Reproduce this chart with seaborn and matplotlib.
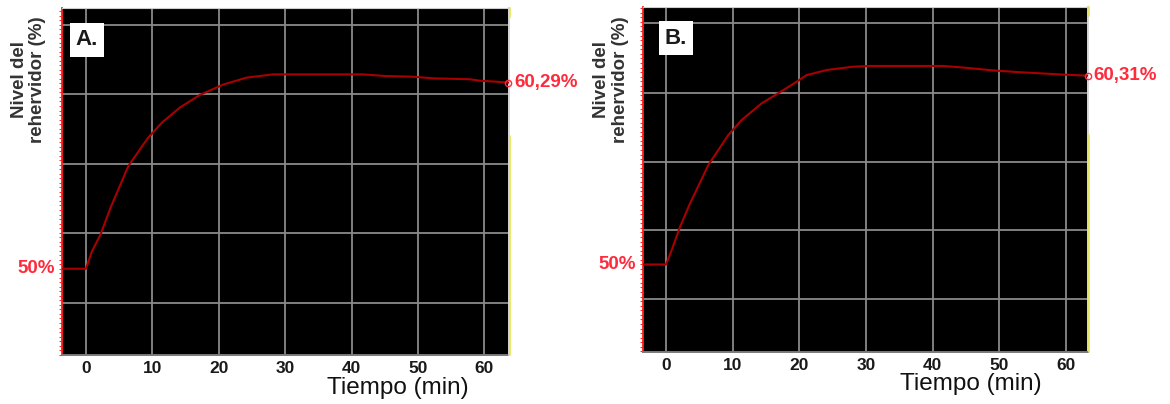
import numpy as np
import pandas as pd
import matplotlib
matplotlib.use("Agg")
import matplotlib.pyplot as plt
from matplotlib.ticker import MultipleLocator
import seaborn as sns

# valores
tiempo_a = [-3.5, 0.0, 0.9, 2.2, 3.7, 6.4, 9.4, 11.5, 14.2, 17.2, 20.7, 24.2, 28.2,
            41.7, 45.0, 49.3, 52.3, 57.8, 59.3, 62.0, 63.6]
nivel_a = [50.0, 50.0, 50.96, 51.89, 53.37, 55.69, 57.26, 58.10, 58.93, 59.62, 60.19,
           60.57, 60.75, 60.75, 60.66, 60.62, 60.53, 60.48, 60.40, 60.34, 60.29]

tiempo_b = [-3.4, 0.0, 0.85, 2.1, 3.6, 6.35, 9.35, 11.35, 14.35, 17.6, 19.6, 21.1, 24.1,
            28.1, 30.6, 41.6, 45.0, 49.0, 53.0, 57.0, 60.0, 63.3]
nivel_b = [50.0, 50.0, 50.78, 52.05, 53.33, 55.43, 57.07, 57.89, 58.80, 59.52, 59.98,
           60.34, 60.62, 60.80, 60.84, 60.84, 60.74, 60.60, 60.50, 60.42, 60.36, 60.31]

final_a = "60,29%"
final_b = "60,31%"
paneles = ["A.", "B."]
xticks = [0, 10, 20, 30, 40, 50, 60]

sns.set_style("dark")
plt.rcParams["font.family"] = ["Liberation Sans", "DejaVu Sans"]

rojo_linea = "#a80000"
rojo_texto = "#ff2b3d"
gris_grid = "#8a8a8a"
texto = "#1a1a1a"

fig = plt.figure(figsize=(11.7, 4.04), dpi=100)
fig.patch.set_facecolor("white")

configs = [
    dict(t=tiempo_a, v=nivel_a, fin=final_a, panel=paneles[0],
         rect=[62 / 1170, 1 - 355 / 404, 447 / 1170, 347 / 404],
         xlim=(-3.6, 63.7), ylim=(45.23, 64.42),
         grid_y=[48.13, 51.97, 55.81, 59.65, 63.49],
         xlab_x=0.752, panel_xy=(0.056, 0.908), ylab_x=28.5 / 1170),
    dict(t=tiempo_b, v=nivel_b, fin=final_b, panel=paneles[1],
         rect=[643 / 1170, 1 - 352 / 404, 445 / 1170, 345 / 404],
         xlim=(-3.45, 63.3), ylim=(45.22, 64.06),
         grid_y=[48.09, 51.87, 55.61, 59.34, 63.17],
         xlab_x=0.737, panel_xy=(0.074, 0.910), ylab_x=611 / 1170),
]

for c in configs:
    ax = fig.add_axes(c["rect"])
    df = pd.DataFrame({"Tiempo": c["t"], "Nivel": c["v"]})
    ax.set_facecolor("black")
    ax.set_axisbelow(True)

    sns.lineplot(data=df, x="Tiempo", y="Nivel", ax=ax, color=rojo_linea,
                 linewidth=1.5, estimator=None, sort=False, zorder=3)
    # marcador del valor final
    ax.plot(df["Tiempo"].iloc[-1], df["Nivel"].iloc[-1], "o", ms=4.5, mfc="none",
            mec=rojo_texto, mew=1.0, clip_on=False, zorder=4)
    ax.annotate(c["fin"], (df["Tiempo"].iloc[-1], df["Nivel"].iloc[-1]),
                xytext=(4, 0), textcoords="offset points", va="center", ha="left",
                color=rojo_texto, fontsize=13.5, fontweight="bold", annotation_clip=False)

    ax.set_xlim(c["xlim"])
    ax.set_ylim(c["ylim"])
    ax.set_xticks(xticks)
    ax.set_xticklabels([str(x) for x in xticks], fontsize=12.5, fontweight="bold", color=texto)
    ax.set_yticks(c["grid_y"])
    ax.set_yticklabels([])
    ax.yaxis.set_minor_locator(MultipleLocator(0.25))
    ax.tick_params(axis="x", length=0, pad=4)
    ax.tick_params(axis="y", which="major", length=0)
    ax.tick_params(axis="y", which="minor", length=2, color="#ff3030", width=0.8, left=True)
    ax.grid(True, which="major", color=gris_grid, linewidth=1.3)
    ax.grid(False, which="minor")

    ax.text(-0.015, 50, "50%", transform=ax.get_yaxis_transform(), ha="right", va="center",
            color=rojo_texto, fontsize=13.5, fontweight="bold")

    ax.set_xlabel("Tiempo (min)", fontsize=17.5, color="#111111")
    ax.xaxis.set_label_coords(c["xlab_x"], -0.062)
    ax.set_ylabel("")

    for s in ax.spines.values():
        s.set_visible(True)
    ax.spines["left"].set_color("#ff2020")
    ax.spines["left"].set_linewidth(1.3)
    ax.spines["bottom"].set_color("#7a7a7a")
    ax.spines["bottom"].set_linestyle((0, (1, 1)))
    ax.spines["bottom"].set_linewidth(1.4)
    ax.spines["top"].set_color("#cfcfcf")
    ax.spines["top"].set_linewidth(0.8)
    ax.spines["right"].set_color("#d8d8d8")
    ax.spines["right"].set_linewidth(1.4)
    # tramos amarillos del borde derecho
    ax.plot([1.003, 1.003], [0.0, 0.63], transform=ax.transAxes, color="#e6e650", lw=1.2,
            clip_on=False, zorder=6)
    ax.plot([1.003, 1.003], [0.975, 1.0], transform=ax.transAxes, color="#e6e650", lw=1.2,
            clip_on=False, zorder=6)

    ax.text(c["panel_xy"][0], c["panel_xy"][1], c["panel"], transform=ax.transAxes,
            ha="center", va="center", fontsize=16, fontweight="bold", color="#1a1a1a",
            bbox=dict(boxstyle="square,pad=0.28", facecolor="white", edgecolor="none"))

    fig.text(c["ylab_x"], 1 - 80 / 404, "Nivel del\nrehervidor (%)", rotation=90,
             ha="center", va="center", fontsize=13.5, fontweight="bold", color="#333333",
             linespacing=1.1, multialignment="center")

fig.savefig("out.png", dpi=100, facecolor="white")
